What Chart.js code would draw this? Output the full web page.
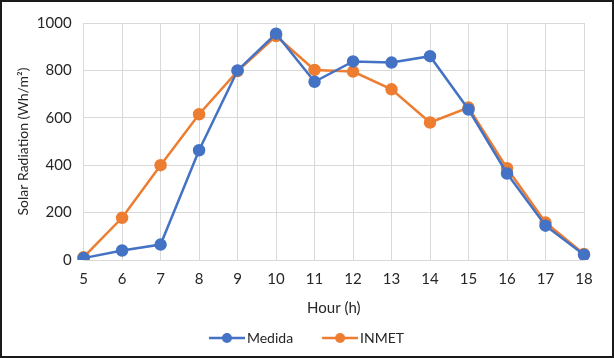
<!DOCTYPE html>
<html>
<head>
<meta charset="utf-8">
<script src="https://cdn.jsdelivr.net/npm/chart.js@4.4.1/dist/chart.umd.min.js"></script>
<style>
  html, body { margin: 0; padding: 0; background: #fff; }
  #wrap { width: 614px; height: 358px; box-sizing: border-box; border: 2px solid #1a1a1a; position: relative; }
</style>
</head>
<body>
<div id="wrap"><canvas id="chart"></canvas></div>
<script>
const hours = ["5","6","7","8","9","10","11","12","13","14","15","16","17","18"];
const medida = [8, 40, 65, 463, 800, 955, 752, 838, 833, 860, 635, 365, 145, 22];
const inmet = [12, 178, 400, 615, 797, 945, 802, 795, 720, 580, 643, 387, 158, 25];
const y_ticks = [0, 200, 400, 600, 800, 1000];

const blue = "#4472C4";
const orange = "#ED7D31";
const font_family = "Lato, 'Open Sans', sans-serif";
const text_color = "#262626";

// legend marker: short line with a dot, drawn at the right side of a wider image
// so the gap before the text is small and the gap between items is wide
const box_w = 45;
const make_marker = (color)=>{
  const c = document.createElement("canvas");
  c.width = box_w + 10; c.height = 12;
  const ctx = c.getContext("2d");
  const x0 = c.width - 36;
  ctx.strokeStyle = color;
  ctx.lineWidth = 2.5;
  ctx.beginPath();
  ctx.moveTo(x0, 6);
  ctx.lineTo(c.width, 6);
  ctx.stroke();
  ctx.fillStyle = color;
  ctx.beginPath();
  ctx.arc(x0 + 18, 6, 5, 0, Math.PI * 2);
  ctx.fill();
  return c;
};
const markers = [make_marker(blue), make_marker(orange)];

new Chart(document.getElementById("chart"), {
  type: "line",
  data: {
    labels: hours,
    datasets: [{
      label: "Medida",
      data: medida,
      borderColor: blue,
      backgroundColor: blue,
      borderWidth: 2.5,
      pointRadius: 5,
      pointHoverRadius: 5,
      tension: 0
    }, {
      label: "INMET",
      data: inmet,
      borderColor: orange,
      backgroundColor: orange,
      borderWidth: 2.5,
      pointRadius: 5,
      pointHoverRadius: 5,
      tension: 0
    }]
  },
  options: {
    responsive: true,
    maintainAspectRatio: false,
    animation: false,
    layout: { padding: { left: 13, right: 28, top: 7, bottom: 1 } },
    plugins: {
      tooltip: { enabled: false },
      legend: {
        position: "bottom",
        labels: {
          usePointStyle: true,
          pointStyleWidth: box_w,
          font: { family: font_family, size: 14 },
          color: text_color,
          padding: 15,
          generateLabels: (chart)=>{
            return chart.data.datasets.map((ds, i)=>({
              text: ds.label,
              pointStyle: markers[i],
              fillStyle: ds.borderColor,
              strokeStyle: ds.borderColor,
              lineWidth: 0,
              fontColor: text_color,
              datasetIndex: i
            }));
          }
        }
      }
    },
    scales: {
      x: {
        type: "category",
        offset: false,
        grid: { color: "#d9d9d9", drawTicks: false },
        border: { color: "#d9d9d9" },
        ticks: { color: text_color, padding: 12, font: { family: font_family, size: 15, lineHeight: 1 } },
        title: { display: true, text: "Hour (h)", color: text_color, padding: { top: 2, bottom: 0 }, font: { family: font_family, size: 15, lineHeight: 1 } }
      },
      y: {
        min: 0,
        max: 1000,
        afterBuildTicks: (axis)=>{ axis.ticks = y_ticks.map(v=>({ value: v })); },
        grid: { color: "#d9d9d9", drawTicks: false },
        border: { color: "#d9d9d9" },
        ticks: { color: text_color, padding: 12, font: { family: font_family, size: 15 }, callback: (v)=>String(v) },
        title: { display: true, text: "Solar Radiation (Wh/m²)", color: text_color, padding: { top: 0, bottom: -7 }, font: { family: font_family, size: 14 } }
      }
    }
  }
});
</script>
</body>
</html>
